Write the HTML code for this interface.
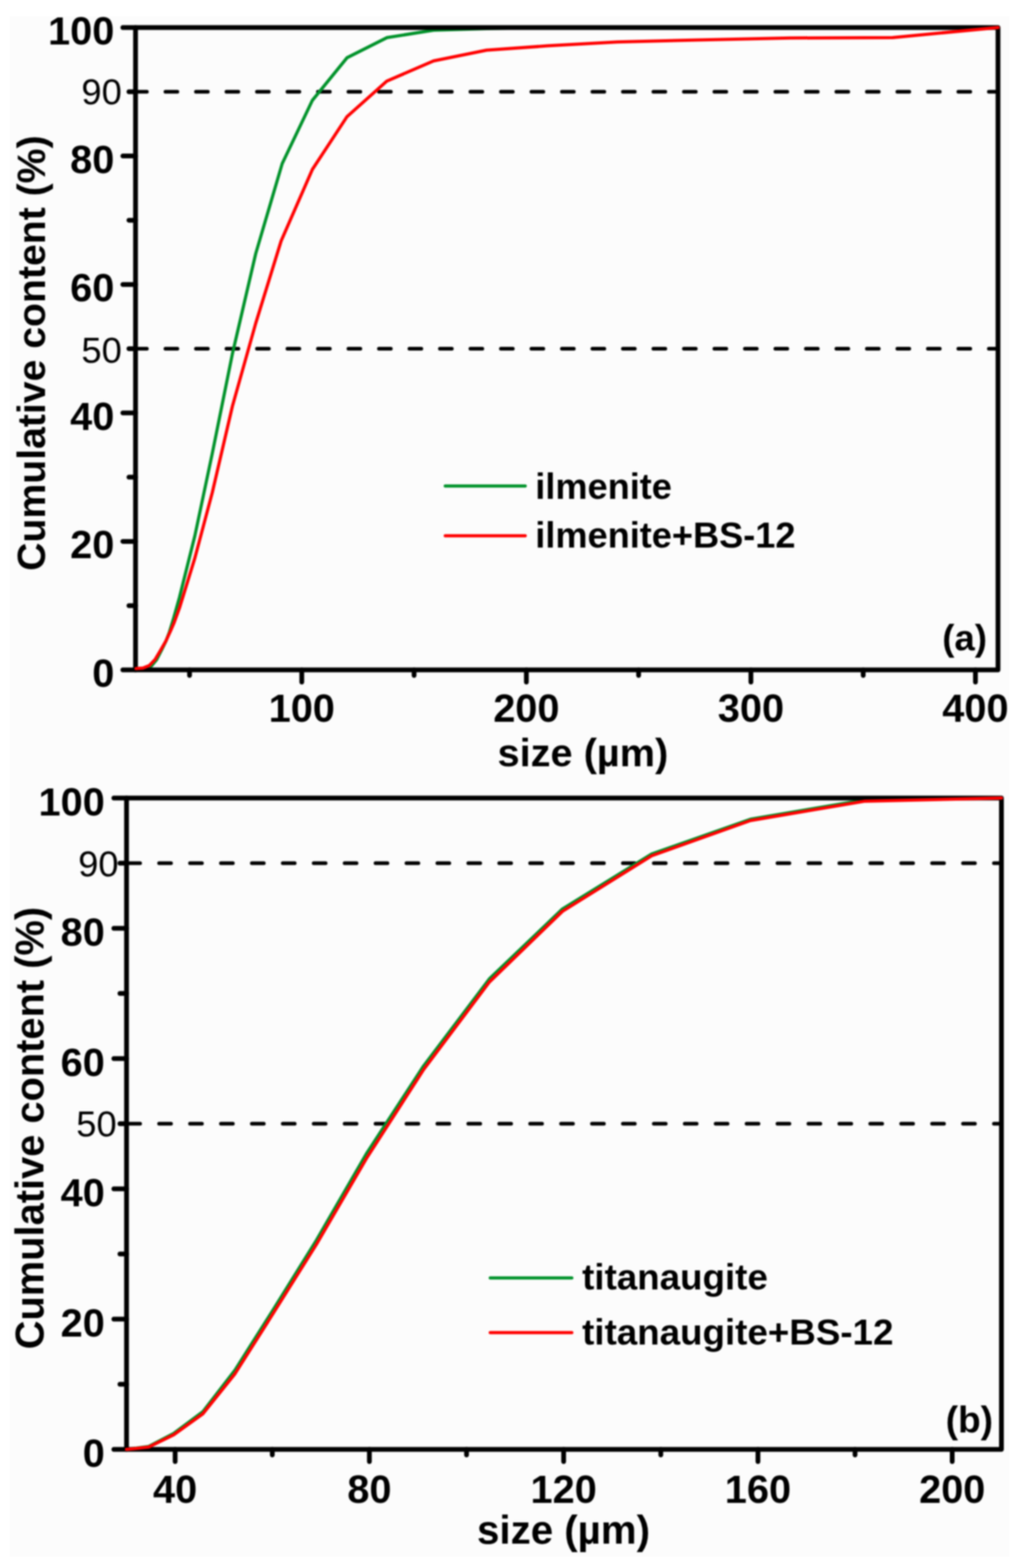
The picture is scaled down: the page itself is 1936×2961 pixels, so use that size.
<!DOCTYPE html>
<html><head><meta charset="utf-8"><title>Cumulative content vs size</title>
<style>html,body{margin:0;padding:0;background:#fff;}body{width:1936px;height:2961px;overflow:hidden;}svg text{fill:#000;font-family:"Liberation Sans",Arial,sans-serif;}</style>
</head><body>
<svg width="1936" height="2961" viewBox="0 0 1936 2961" style="display:block;font-family:'Liberation Sans',Arial,sans-serif;filter:blur(1.5px)">
<rect x="0" y="0" width="1936" height="2961" fill="#ffffff"/>
<rect x="18" y="31" width="1888" height="2909" fill="#fcfcfc"/>
<line x1="254.9" y1="173.3" x2="1885.0" y2="173.3" stroke="#000" stroke-width="7" stroke-dasharray="22.5 35.1" stroke-linecap="round"/>
<line x1="254.9" y1="658.5" x2="1885.0" y2="658.5" stroke="#000" stroke-width="7" stroke-dasharray="22.5 35.1" stroke-linecap="round"/>
<polyline points="257.0,1264.5 273.0,1263.5 286.0,1257.5 296.0,1245.5 305.0,1228.0 313.5,1210.5 320.0,1193.5 327.2,1170.0 339.0,1128.0 368.0,1012.0 401.0,856.0 439.0,668.0 483.0,479.0 533.0,309.0 590.0,189.5 655.5,109.0 731.0,71.0 819.0,57.0 919.0,54.0 1000.0,52.0 1885.0,51.5" fill="none" stroke="#00922a" stroke-width="6" stroke-linejoin="round" stroke-linecap="round"/>
<path d="M256,52 H1885 V1265 H256 Z" fill="none" stroke="#000" stroke-width="9" stroke-linejoin="round"/>
<line x1="232.0" y1="1265.0" x2="256" y2="1265.0" stroke="#000" stroke-width="9" stroke-linecap="round"/>
<line x1="243.5" y1="1143.7" x2="256" y2="1143.7" stroke="#000" stroke-width="9" stroke-linecap="round"/>
<line x1="232.0" y1="1022.4" x2="256" y2="1022.4" stroke="#000" stroke-width="9" stroke-linecap="round"/>
<line x1="243.5" y1="901.1" x2="256" y2="901.1" stroke="#000" stroke-width="9" stroke-linecap="round"/>
<line x1="232.0" y1="779.8" x2="256" y2="779.8" stroke="#000" stroke-width="9" stroke-linecap="round"/>
<line x1="243.5" y1="658.5" x2="256" y2="658.5" stroke="#000" stroke-width="9" stroke-linecap="round"/>
<line x1="232.0" y1="537.2" x2="256" y2="537.2" stroke="#000" stroke-width="9" stroke-linecap="round"/>
<line x1="243.5" y1="415.9" x2="256" y2="415.9" stroke="#000" stroke-width="9" stroke-linecap="round"/>
<line x1="232.0" y1="294.6" x2="256" y2="294.6" stroke="#000" stroke-width="9" stroke-linecap="round"/>
<line x1="243.5" y1="173.3" x2="256" y2="173.3" stroke="#000" stroke-width="9" stroke-linecap="round"/>
<line x1="232.0" y1="52.0" x2="256" y2="52.0" stroke="#000" stroke-width="9" stroke-linecap="round"/>
<line x1="358.0" y1="1265" x2="358.0" y2="1275.5" stroke="#000" stroke-width="9" stroke-linecap="round"/>
<line x1="570.0" y1="1265" x2="570.0" y2="1288.0" stroke="#000" stroke-width="9" stroke-linecap="round"/>
<line x1="782.1" y1="1265" x2="782.1" y2="1275.5" stroke="#000" stroke-width="9" stroke-linecap="round"/>
<line x1="994.2" y1="1265" x2="994.2" y2="1288.0" stroke="#000" stroke-width="9" stroke-linecap="round"/>
<line x1="1206.2" y1="1265" x2="1206.2" y2="1275.5" stroke="#000" stroke-width="9" stroke-linecap="round"/>
<line x1="1418.3" y1="1265" x2="1418.3" y2="1288.0" stroke="#000" stroke-width="9" stroke-linecap="round"/>
<line x1="1630.4" y1="1265" x2="1630.4" y2="1275.5" stroke="#000" stroke-width="9" stroke-linecap="round"/>
<line x1="1842.4" y1="1265" x2="1842.4" y2="1288.0" stroke="#000" stroke-width="9" stroke-linecap="round"/>
<polyline points="257.0,1262.5 270.0,1261.5 282.0,1256.8 293.0,1245.2 303.4,1227.8 313.3,1210.5 321.4,1193.1 328.9,1175.8 339.0,1148.0 368.0,1054.0 401.0,930.0 439.0,767.0 483.0,610.5 531.0,455.0 590.0,320.0 655.5,220.2 730.5,153.3 819.0,115.0 919.0,94.7 1034.0,86.6 1166.0,79.3 1318.0,75.5 1492.0,71.8 1686.0,70.9 1885.0,52.0" fill="none" stroke="#ff0000" stroke-width="6" stroke-linejoin="round" stroke-linecap="round"/>
<text x="216" y="1297.0" text-anchor="end" font-weight="bold" font-size="75">0</text>
<text x="216" y="1054.4" text-anchor="end" font-weight="bold" font-size="75">20</text>
<text x="216" y="811.8" text-anchor="end" font-weight="bold" font-size="75">40</text>
<text x="216" y="569.2" text-anchor="end" font-weight="bold" font-size="75">60</text>
<text x="216" y="326.6" text-anchor="end" font-weight="bold" font-size="75">80</text>
<text x="216" y="84.0" text-anchor="end" font-weight="bold" font-size="75">100</text>
<text x="230" y="197.4" text-anchor="end" font-size="68.5">90</text>
<text x="230" y="685.4" text-anchor="end" font-size="68.5">50</text>
<text x="570.0" y="1362.5" text-anchor="middle" font-weight="bold" font-size="75">100</text>
<text x="994.2" y="1362.5" text-anchor="middle" font-weight="bold" font-size="75">200</text>
<text x="1418.3" y="1362.5" text-anchor="middle" font-weight="bold" font-size="75">300</text>
<text x="1842.4" y="1362.5" text-anchor="middle" font-weight="bold" font-size="75">400</text>
<text x="939.8" y="1447" font-weight="bold" font-size="75">size (µm)</text>
<text transform="translate(84.5,1078) rotate(-90)" font-weight="bold" font-size="74">Cumulative content (%)</text>
<line x1="841" y1="917.8" x2="992" y2="917.8" stroke="#00922a" stroke-width="6" stroke-linecap="round"/>
<text x="1011" y="942" font-weight="bold" font-size="68.3">ilmenite</text>
<line x1="841" y1="1011.7" x2="992" y2="1011.7" stroke="#ff0000" stroke-width="6" stroke-linecap="round"/>
<text x="1011" y="1034.2" font-weight="bold" font-size="68.3">ilmenite+BS-12</text>
<text x="1779.8" y="1228" font-weight="bold" font-size="69">(a)</text>
<line x1="242.1" y1="1630.0" x2="1891.5" y2="1630.0" stroke="#000" stroke-width="7" stroke-dasharray="22.5 35.9" stroke-linecap="round"/>
<line x1="242.1" y1="2122.0" x2="1891.5" y2="2122.0" stroke="#000" stroke-width="7" stroke-dasharray="22.5 35.9" stroke-linecap="round"/>
<polyline points="239.0,2737.0 281.0,2731.5 328.0,2707.0 383.0,2666.0 444.0,2587.0 515.5,2474.0 597.6,2342.0 691.9,2179.0 800.0,2013.0 924.3,1848.5 1062.3,1716.5 1231.0,1612.5 1417.5,1547.0 1633.7,1510.5 1891.5,1506.5" fill="none" stroke="#00922a" stroke-width="6" stroke-linejoin="round" stroke-linecap="round"/>
<path d="M239,1507 H1891.5 V2737 H239 Z" fill="none" stroke="#000" stroke-width="9" stroke-linejoin="round"/>
<line x1="215.0" y1="2737.0" x2="239" y2="2737.0" stroke="#000" stroke-width="9" stroke-linecap="round"/>
<line x1="226.5" y1="2614.0" x2="239" y2="2614.0" stroke="#000" stroke-width="9" stroke-linecap="round"/>
<line x1="215.0" y1="2491.0" x2="239" y2="2491.0" stroke="#000" stroke-width="9" stroke-linecap="round"/>
<line x1="226.5" y1="2368.0" x2="239" y2="2368.0" stroke="#000" stroke-width="9" stroke-linecap="round"/>
<line x1="215.0" y1="2245.0" x2="239" y2="2245.0" stroke="#000" stroke-width="9" stroke-linecap="round"/>
<line x1="226.5" y1="2122.0" x2="239" y2="2122.0" stroke="#000" stroke-width="9" stroke-linecap="round"/>
<line x1="215.0" y1="1999.0" x2="239" y2="1999.0" stroke="#000" stroke-width="9" stroke-linecap="round"/>
<line x1="226.5" y1="1876.0" x2="239" y2="1876.0" stroke="#000" stroke-width="9" stroke-linecap="round"/>
<line x1="215.0" y1="1753.0" x2="239" y2="1753.0" stroke="#000" stroke-width="9" stroke-linecap="round"/>
<line x1="226.5" y1="1630.0" x2="239" y2="1630.0" stroke="#000" stroke-width="9" stroke-linecap="round"/>
<line x1="215.0" y1="1507.0" x2="239" y2="1507.0" stroke="#000" stroke-width="9" stroke-linecap="round"/>
<line x1="330.8" y1="2737" x2="330.8" y2="2760.0" stroke="#000" stroke-width="9" stroke-linecap="round"/>
<line x1="514.3" y1="2737" x2="514.3" y2="2747.5" stroke="#000" stroke-width="9" stroke-linecap="round"/>
<line x1="697.7" y1="2737" x2="697.7" y2="2760.0" stroke="#000" stroke-width="9" stroke-linecap="round"/>
<line x1="881.2" y1="2737" x2="881.2" y2="2747.5" stroke="#000" stroke-width="9" stroke-linecap="round"/>
<line x1="1064.6" y1="2737" x2="1064.6" y2="2760.0" stroke="#000" stroke-width="9" stroke-linecap="round"/>
<line x1="1248.1" y1="2737" x2="1248.1" y2="2747.5" stroke="#000" stroke-width="9" stroke-linecap="round"/>
<line x1="1431.6" y1="2737" x2="1431.6" y2="2760.0" stroke="#000" stroke-width="9" stroke-linecap="round"/>
<line x1="1615.0" y1="2737" x2="1615.0" y2="2747.5" stroke="#000" stroke-width="9" stroke-linecap="round"/>
<line x1="1798.5" y1="2737" x2="1798.5" y2="2760.0" stroke="#000" stroke-width="9" stroke-linecap="round"/>
<polyline points="239.0,2737.0 281.0,2732.5 328.0,2709.5 383.0,2670.0 444.0,2594.0 515.5,2481.0 597.6,2350.0 691.9,2188.0 800.0,2020.0 924.3,1854.5 1062.3,1721.0 1231.0,1616.0 1417.5,1549.5 1633.7,1512.9 1891.5,1507.0" fill="none" stroke="#ff0000" stroke-width="6" stroke-linejoin="round" stroke-linecap="round"/>
<text x="198" y="2770.0" text-anchor="end" font-weight="bold" font-size="75">0</text>
<text x="198" y="2524.0" text-anchor="end" font-weight="bold" font-size="75">20</text>
<text x="198" y="2278.0" text-anchor="end" font-weight="bold" font-size="75">40</text>
<text x="198" y="2032.0" text-anchor="end" font-weight="bold" font-size="75">60</text>
<text x="198" y="1786.0" text-anchor="end" font-weight="bold" font-size="75">80</text>
<text x="198" y="1540.0" text-anchor="end" font-weight="bold" font-size="75">100</text>
<text x="223.9" y="1655.2" text-anchor="end" font-size="68.5">90</text>
<text x="220.3" y="2146.2" text-anchor="end" font-size="68.5">50</text>
<text x="330.8" y="2837.5" text-anchor="middle" font-weight="bold" font-size="75">40</text>
<text x="697.7" y="2837.5" text-anchor="middle" font-weight="bold" font-size="75">80</text>
<text x="1064.6" y="2837.5" text-anchor="middle" font-weight="bold" font-size="75">120</text>
<text x="1431.6" y="2837.5" text-anchor="middle" font-weight="bold" font-size="75">160</text>
<text x="1798.5" y="2837.5" text-anchor="middle" font-weight="bold" font-size="75">200</text>
<text x="901" y="2914.6" font-weight="bold" font-size="76">size (µm)</text>
<text transform="translate(82.3,2548) rotate(-90)" font-weight="bold" font-size="75.2">Cumulative content (%)</text>
<line x1="926" y1="2413.3" x2="1080" y2="2413.3" stroke="#00922a" stroke-width="6" stroke-linecap="round"/>
<text x="1099.5" y="2434.5" font-weight="bold" font-size="69.4">titanaugite</text>
<line x1="926" y1="2516.4" x2="1080" y2="2516.4" stroke="#ff0000" stroke-width="6" stroke-linecap="round"/>
<text x="1099.5" y="2539" font-weight="bold" font-size="69.4">titanaugite+BS-12</text>
<text x="1786.3" y="2705" font-weight="bold" font-size="70">(b)</text>
</svg>
</body></html>
